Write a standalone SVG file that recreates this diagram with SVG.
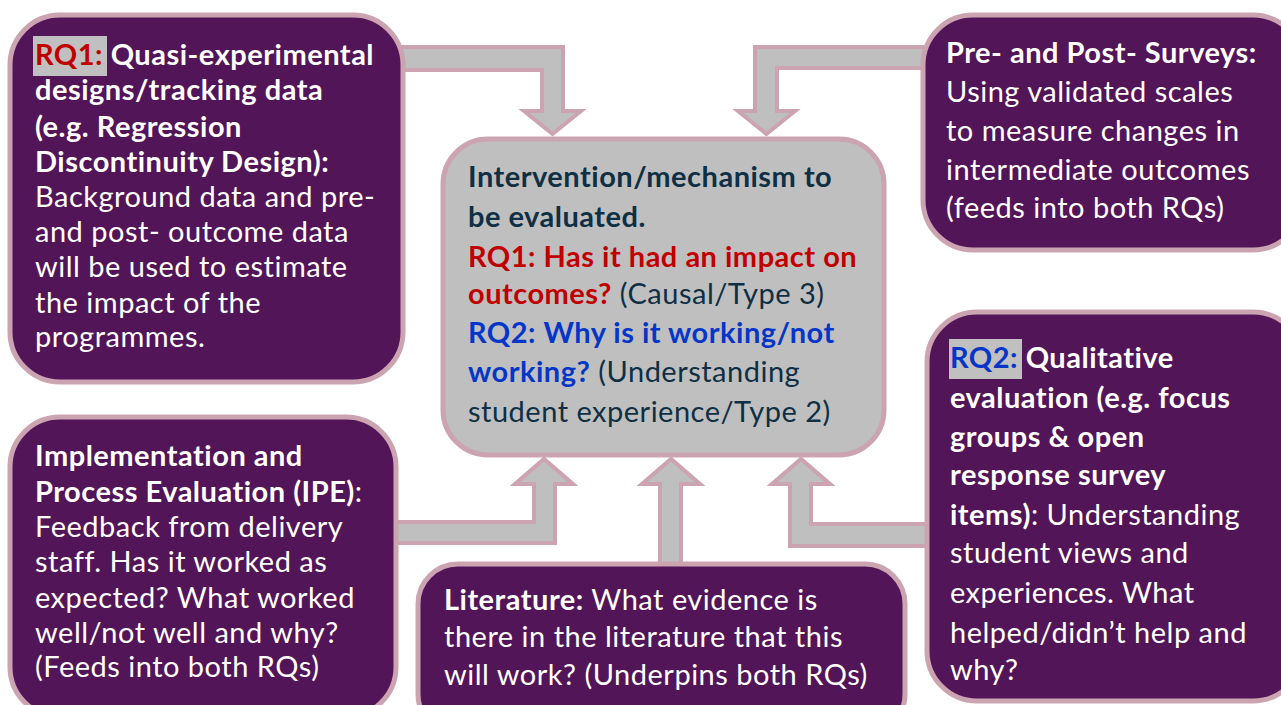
<svg xmlns="http://www.w3.org/2000/svg" width="1281" height="705" viewBox="0 0 1281 705">
<style>
.box{fill:#521558;stroke:#cba3b1;stroke-width:5}
.mid{fill:#bfbfbf;stroke:#cba3b1;stroke-width:5}
.arr{fill:#bfbfbf;stroke:#cba3b1;stroke-width:4;stroke-linejoin:miter}
.hl{fill:#c0c0c0}
text{font-family:Lato,"Liberation Sans",sans-serif;font-size:29px;letter-spacing:0.5px}
.w{fill:#ffffff}
.d{fill:#0e2f44}
.b{font-weight:700}
.red{fill:#c00000;font-weight:700}
.blue{fill:#0636c8;font-weight:700}
</style>
<rect width="1281" height="705" fill="#ffffff"/>
<g id="connectors">
<path class="arr" d="M400 47H563V111H581L552.5 134L524 111H542V70H400Z"/>
<path class="arr" d="M926 47H755V111H738L766.5 134L795 111H777V68H926Z"/>
<path class="arr" d="M394 543H555V484H573L544 459L515 484H534V522H394Z"/>
<path class="arr" d="M660 566V484H642L671 459L700 484H681V566Z"/>
<path class="arr" d="M930 546H790V484H772L801 459L830 484H811V524H930Z"/>
</g>
<g id="rq1">
<rect class="box" x="10" y="15" width="393" height="367" rx="50"/>
<rect class="hl" x="33" y="36" width="74" height="40"/>
<text x="35" y="65"><tspan class="red">RQ1:</tspan><tspan class="w b"> Quasi-experimental</tspan></text>
<text class="w b" x="35" y="100">designs/tracking data</text>
<text class="w b" x="35" y="137">(e.g. Regression</text>
<text class="w b" x="35" y="172">Discontinuity Design):</text>
<text class="w" x="35" y="207">Background data and pre-</text>
<text class="w" x="35" y="242">and post- outcome data</text>
<text class="w" x="35" y="277">will be used to estimate</text>
<text class="w" x="35" y="313">the impact of the</text>
<text class="w" x="35" y="347">programmes.</text>
</g>
<g id="surveys">
<rect class="box" x="923" y="15" width="380" height="235" rx="50"/>
<text class="w b" x="946" y="63">Pre- and Post- Surveys:</text>
<text class="w" x="946" y="102">Using validated scales</text>
<text class="w" x="946" y="141">to measure changes in</text>
<text class="w" x="946" y="180">intermediate outcomes</text>
<text class="w" x="946" y="218">(feeds into both RQs)</text>
</g>
<g id="center">
<rect class="mid" x="443" y="139" width="441" height="316" rx="45"/>
<text class="d b" x="468" y="187">Intervention/mechanism to</text>
<text class="d b" x="468" y="227">be evaluated.</text>
<text class="red" x="468" y="267">RQ1: Has it had an impact on</text>
<text x="468" y="304"><tspan class="red">outcomes?</tspan><tspan class="d"> (Causal/Type 3)</tspan></text>
<text class="blue" x="468" y="343">RQ2: Why is it working/not</text>
<text x="468" y="382"><tspan class="blue">working?</tspan><tspan class="d"> (Understanding</tspan></text>
<text class="d" x="468" y="422">student experience/Type 2)</text>
</g>
<g id="ipe">
<rect class="box" x="10" y="417" width="386" height="300" rx="50"/>
<text class="w b" x="35" y="466">Implementation and</text>
<text class="w" x="35" y="502"><tspan class="b">Process Evaluation (IPE)</tspan>:</text>
<text class="w" x="35" y="537">Feedback from delivery</text>
<text class="w" x="35" y="572">staff. Has it worked as</text>
<text class="w" x="35" y="608">expected? What worked</text>
<text class="w" x="35" y="643">well/not well and why?</text>
<text class="w" x="35" y="677">(Feeds into both RQs)</text>
</g>
<g id="literature">
<rect class="box" x="418" y="564" width="487" height="170" rx="40"/>
<text class="w" x="444" y="610"><tspan class="b">Literature:</tspan> What evidence is</text>
<text class="w" x="444" y="647">there in the literature that this</text>
<text class="w" x="444" y="685">will work? (Underpins both RQs)</text>
</g>
<g id="rq2">
<rect class="box" x="927" y="312" width="376" height="389" rx="50"/>
<rect class="hl" x="949" y="339" width="73" height="40"/>
<text x="950" y="368"><tspan class="blue">RQ2:</tspan><tspan class="w b"> Qualitative</tspan></text>
<text class="w b" x="950" y="408">evaluation (e.g. focus</text>
<text class="w b" x="950" y="447">groups &amp; open</text>
<text class="w b" x="950" y="485">response survey</text>
<text class="w" x="950" y="525"><tspan class="b">items)</tspan>: Understanding</text>
<text class="w" x="950" y="563">student views and</text>
<text class="w" x="950" y="603">experiences. What</text>
<text class="w" x="950" y="643">helped/didn’t help and</text>
<text class="w" x="950" y="680">why?</text>
</g>
</svg>
